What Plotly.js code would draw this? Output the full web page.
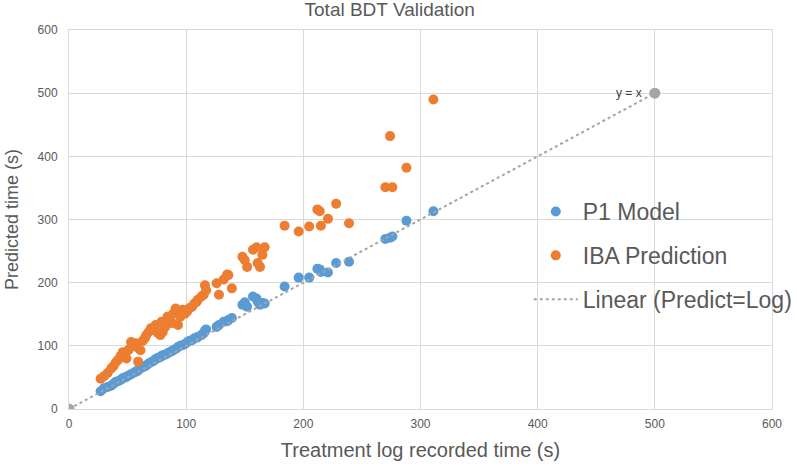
<!DOCTYPE html>
<html><head><meta charset="utf-8">
<script src="https://cdn.plot.ly/plotly-3.0.1.min.js"></script>
<style>html,body{margin:0;padding:0;background:#fff}#chart{width:797px;height:467px}</style>
</head><body><div id="chart"></div>
<script>
// Treatment log recorded time (s)
const logTime = [27,30,33,36,38,40,42,44,46,48,49,51,53,55,57,58,59,61,63,65,66,68,70,72,74,76,78,79,80,82,84,86,88,89,91,93,95,97,99,101,103,105,107,109,110,113,115,116,117,126,128,132,135,136,139,148,150,152,157,160,161,163,165,167,184,196,205,212,214,215,221,228,239,270,274,276,288,311];
// P1 Model predicted time (s)
const p1Model = [28,33,35,37,40,43,44,46,49,50,51,53,55,57,59,60,61,64,66,68,69,72,74,76,79,81,82,84,85,86,88,90,92,93,95,98,100,101,103,106,108,109,112,113,114,117,120,124,126,130,133,138,139,141,144,165,169,162,178,175,170,165,168,167,194,208,208,222,221,217,216,231,233,269,271,273,298,313];
// IBA Prediction (s)
const ibaPred = [48,52,57,64,68,74,78,84,90,86,80,94,106,101,104,98,75,93,108,113,117,122,128,125,133,120,117,138,122,130,146,141,136,151,159,133,146,157,151,155,160,162,167,170,173,178,181,196,188,199,181,205,213,212,191,241,236,225,252,256,231,225,244,256,290,281,289,316,313,290,301,325,294,351,432,351,382,490];
// Linear (Predict=Log) reference points
const lineX = [0,500];
const lineY = [0,500];

const font = 'Liberation Sans, Arial, sans-serif';
const traces = [
  {x: logTime, y: p1Model, type:'scatter', mode:'markers', name:'P1 Model', legendgroup:'a',
   marker:{color:'#5B9BD5', size:10}},
  {x: logTime, y: ibaPred, type:'scatter', mode:'markers', name:'IBA Prediction', legendgroup:'b',
   marker:{color:'#ED7D31', size:10}},
  {x: lineX, y: lineY, type:'scatter', mode:'lines', name:'Linear (Predict=Log)', legendgroup:'c',
   line:{color:'#A5A5A5', width:2, dash:'dot'}},
  {x: lineX, y: lineY, type:'scatter', mode:'markers', showlegend:false,
   marker:{color:'#A5A5A5', size:11}}
];
const axisCommon = {
  range:[0,600], dtick:100, showgrid:true, gridcolor:'#D9D9D9', gridwidth:1,
  showline:true, linecolor:'#D9D9D9', linewidth:1, mirror:true, zeroline:false,
  tickfont:{family:font, size:12, color:'#595959'}, fixedrange:true
};
const layout = {
  width:797, height:467, paper_bgcolor:'#fff', plot_bgcolor:'rgba(0,0,0,0)',
  margin:{l:69, r:25, t:30, b:58, autoexpand:false},
  title:{text:'Total BDT Validation', font:{family:font, size:19, color:'#595959'},
         x:0.489, xanchor:'center', y:0.979, yanchor:'middle'},
  xaxis:Object.assign({}, axisCommon, {
    title:{text:'Treatment log recorded time (s)', font:{family:font, size:20, color:'#595959'}, standoff:12},
    ticklabelstandoff:4}),
  yaxis:Object.assign({}, axisCommon, {
    title:{text:'Predicted time (s)', font:{family:font, size:18, color:'#595959'}, standoff:14},
    ticklabelstandoff:8}),
  showlegend:true,
  legend:{x:0.654, xanchor:'left', y:0.405, yanchor:'middle', bgcolor:'rgba(0,0,0,0)',
          font:{family:font, size:23, color:'#595959'}, tracegroupgap:11, itemwidth:44},
  annotations:[{x:500, y:500, xref:'x', yref:'y', text:'y = x', showarrow:false,
    xanchor:'right', yanchor:'middle', xshift:-11, font:{family:font, size:12, color:'#404040'}}]
};
Plotly.newPlot('chart', traces, layout, {displayModeBar:false, staticPlot:true});
</script></body></html>
